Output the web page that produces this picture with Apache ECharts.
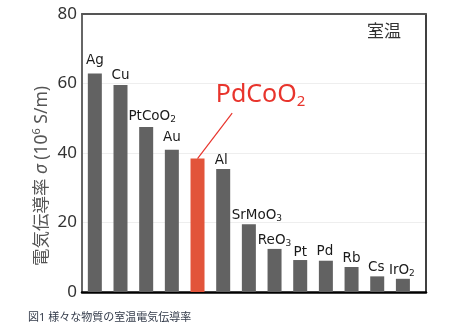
<!DOCTYPE html>
<html>
<head>
<meta charset="utf-8">
<script src="https://cdn.jsdelivr.net/npm/echarts@6/dist/echarts.min.js"></script>
<style>
html,body{margin:0;padding:0;background:#fff;}
#chart{width:458px;height:331px;}
</style>
</head>
<body>
<div id="chart"></div>
<script>
const categories = ['Ag', 'Cu', 'PtCoO2', 'Au', 'PdCoO2', 'Al', 'SrMoO3', 'ReO3', 'Pt', 'Pd', 'Rb', 'Cs', 'IrO2'];
const values = [62.9, 59.6, 47.5, 40.9, 38.4, 35.4, 19.5, 12.4, 9.2, 9.0, 7.2, 4.5, 3.8];
const highlightName = 'PdCoO2';
const yTicks = [0, 20, 40, 60, 80];
const yAxisTitle = '電気伝導率 {i|σ} (10{p|6} S/m)';
const cornerNote = '室温';
const caption = '図1 様々な物質の室温電気伝導率';

const FONT = '"Noto Sans", "Noto Sans CJK JP", sans-serif';
const LFONT = '"DejaVu Sans", "Noto Sans CJK JP", sans-serif';
const labelDx = [0, 0, 6, 0, 0, -2, 8, 0, 0, -1, 0, -1, -1];
const labelDy = [-4, -1, -2, -4, 0, 0, 0, 0, 1, 0, 0, 0, 0];

function sub(name) { return name.replace(/(\d)$/, '{s|$1}'); }

const data = values.map((v, i) => {
  const isHi = categories[i] === highlightName;
  return {
    value: [i, v],
    itemStyle: { color: isHi ? '#E2543A' : '#626262' },
    label: isHi ? {
      show: true, position: 'top', offset: [63, -49],
      fontSize: 25, color: '#E8342C', fontFamily: FONT,
      rich: { s: { fontSize: 15, color: '#E8342C', fontFamily: FONT, lineHeight: 16, padding: [14, 0, 0, 0] } }
    } : { offset: [labelDx[i], labelDy[i]] }
  };
});

const chart = echarts.init(document.getElementById('chart'));
chart.setOption({
  animation: false,
  textStyle: { fontFamily: FONT },
  grid: { left: 82, right: 32, top: 14, bottom: 39 },
  title: [
    { text: cornerNote, left: 362, top: 19, textStyle: { fontSize: 17, fontWeight: 'normal', color: '#333', fontFamily: FONT } },
    { text: caption, left: 23, top: 307, textStyle: { fontSize: 11, fontWeight: 'normal', color: '#333b4a', fontFamily: FONT } }
  ],
  xAxis: [
    { type: 'value', min: -0.5, max: 12.9, position: 'bottom',
      axisLine: { show: true, onZero: false, lineStyle: { color: '#000', width: 2.5 } },
      axisTick: { show: false }, axisLabel: { show: false }, splitLine: { show: false } },
    { type: 'value', min: -0.5, max: 12.9, position: 'top',
      axisLine: { show: true, onZero: false, lineStyle: { color: '#555', width: 2 } },
      axisTick: { show: false }, axisLabel: { show: false }, splitLine: { show: false } }
  ],
  yAxis: [
    { type: 'value', min: yTicks[0], max: yTicks[yTicks.length - 1], interval: 20, position: 'left',
      axisLine: { show: true, onZero: false, lineStyle: { color: '#666', width: 2 } },
      axisTick: { show: false },
      axisLabel: { fontSize: 17, color: '#333', margin: 5, fontFamily: FONT },
      splitLine: { show: true, lineStyle: { color: '#eeeeee', width: 1 } },
      name: yAxisTitle, nameLocation: 'middle', nameGap: 29, nameRotate: 90, nameMoveOverlap: false,
      nameTextStyle: { fontSize: 17.5, color: '#555', fontFamily: FONT, lineHeight: 22, padding: [0, 46, 0, 0],
        rich: { i: { fontSize: 17.5, fontStyle: 'italic', color: '#555', lineHeight: 22 },
                p: { fontSize: 11, color: '#555', lineHeight: 22, verticalAlign: 'top', padding: [0, 0, 8, 0] } } } },
    { type: 'value', min: 0, max: 80, interval: 20, position: 'right',
      axisLine: { show: true, onZero: false, lineStyle: { color: '#000', width: 1.5 } },
      axisTick: { show: false }, axisLabel: { show: false }, splitLine: { show: false } }
  ],
  series: [{
    type: 'bar',
    xAxisIndex: 0, yAxisIndex: 0,
    barWidth: 14,
    data: data,
    label: {
      show: true, position: 'top', distance: 2,
      fontSize: 13.5, color: '#1a1a1a', fontFamily: LFONT,
      formatter: p => sub(categories[p.dataIndex]),
      rich: { s: { fontSize: 9, color: '#1a1a1a', fontFamily: LFONT, lineHeight: 10, padding: [7, 0, 0, 0] } }
    },
    markLine: {
      silent: true, symbol: 'none', label: { show: false },
      lineStyle: { color: '#E8342C', width: 1.2, type: 'solid' },
      data: [[{ coord: [4, 38.4] }, { coord: [5.35, 51.5] }]]
    }
  }]
});
</script>
</body>
</html>
